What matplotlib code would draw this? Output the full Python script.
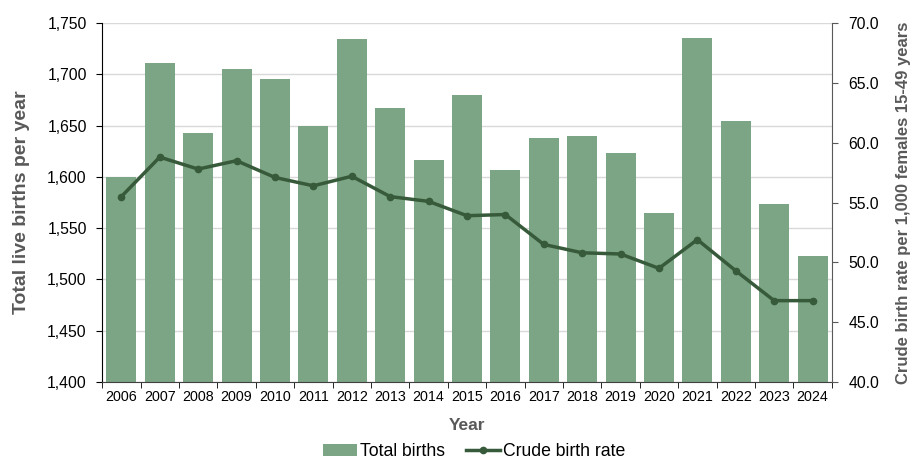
import matplotlib
matplotlib.use('Agg')
import matplotlib.pyplot as plt
import numpy as np
from matplotlib.ticker import FuncFormatter, MultipleLocator

years = [str(y) for y in range(2006, 2025)]
total_births = [1600, 1711, 1643, 1705, 1696, 1650, 1735, 1667, 1617, 1680,
                1607, 1638, 1640, 1623, 1565, 1736, 1655, 1574, 1523]
crude_rate = [55.5, 58.8, 57.8, 58.5, 57.1, 56.4, 57.2, 55.5, 55.1, 53.9,
              54.0, 51.5, 50.8, 50.7, 49.5, 51.9, 49.3, 46.8, 46.8]

bar_color = '#7BA584'
line_color = '#375A3B'
label_grey = '#595959'

plt.rcParams['font.family'] = ['Liberation Sans', 'DejaVu Sans']

fig = plt.figure(figsize=(9.12, 4.63), dpi=100)
ax = fig.add_axes([0.112, 0.175, 0.8, 0.775])
x = np.arange(len(years))

ax.bar(x, total_births, width=0.78, color=bar_color, zorder=2, label='Total births')
ax.set_ylim(1400, 1750)
ax.set_xlim(-0.5, len(years) - 0.5)
ax.yaxis.set_major_locator(MultipleLocator(50))
ax.yaxis.set_major_formatter(FuncFormatter(lambda v, p: f"{int(v):,}"))
ax.grid(axis='y', color='#D9D9D9', linewidth=1, zorder=0)
ax.set_axisbelow(True)

ax.set_xticks(x)
ax.set_xticklabels(years, fontsize=10.3)
ax.set_xticks(np.arange(-0.5, len(years)), minor=True)
ax.tick_params(axis='x', which='major', length=0, pad=6)
ax.tick_params(axis='x', which='minor', length=4, direction='out', color='black')
ax.tick_params(axis='y', labelsize=11.3, length=4, direction='out', pad=7)

for s in ['top', 'right']:
    ax.spines[s].set_visible(False)
ax.spines['left'].set_color('black')
ax.spines['bottom'].set_color('#404040')

ax.set_ylabel('Total live births per year', fontsize=14, fontweight='bold',
              color=label_grey, labelpad=12)
ax.set_xlabel('Year', fontsize=12.5, fontweight='bold', color=label_grey, labelpad=10)

ax2 = ax.twinx()
ax2.plot(x, crude_rate, color=line_color, linewidth=2.5, marker='o',
         markersize=4.5, zorder=3, label='Crude birth rate')
ax2.set_ylim(40, 70)
ax2.yaxis.set_major_locator(MultipleLocator(5))
ax2.yaxis.set_major_formatter(FuncFormatter(lambda v, p: f"{v:.1f}"))
ax2.tick_params(axis='y', labelsize=11.3, length=4, direction='out', color='#595959', pad=8)
for s in ['top', 'left', 'bottom']:
    ax2.spines[s].set_visible(False)
ax2.spines['right'].set_color('#595959')
ax2.set_ylabel('Crude birth rate per 1,000 females 15-49 years', fontsize=12,
               fontweight='bold', color=label_grey, labelpad=12)

h1, l1 = ax.get_legend_handles_labels()
h2, l2 = ax2.get_legend_handles_labels()
fig.legend(h1 + h2, l1 + l2, loc='center', bbox_to_anchor=(0.52, 0.024),
           ncol=2, frameon=False, fontsize=12.7, handlelength=1.9,
           handletextpad=0.2, columnspacing=1.2)

fig.savefig('out.png', dpi=100)
